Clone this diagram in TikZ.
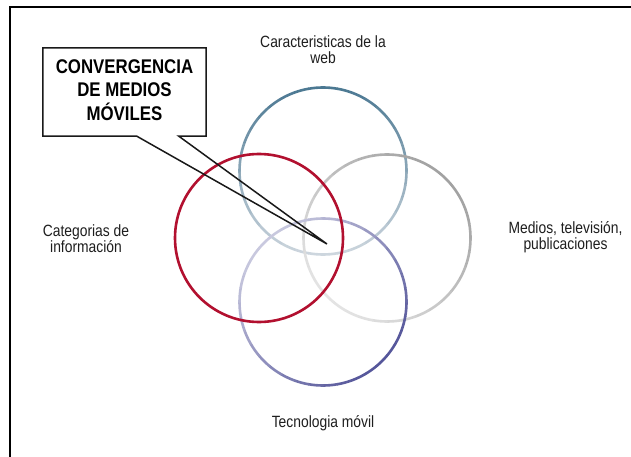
\documentclass[tikz,border=0pt]{standalone}
\usepackage{fontspec}
\setmainfont{Liberation Sans}
\newfontfamily\tallfont[FakeStretch=0.85]{Liberation Sans}
\usetikzlibrary{calc}
\definecolor{bluedark}{HTML}{4B7892}
\definecolor{bluelight}{HTML}{CDD6DE}
\definecolor{graydark}{HTML}{A2A2A2}
\definecolor{graylight}{HTML}{E4E4E4}
\definecolor{purpdark}{HTML}{55569A}
\definecolor{purplight}{HTML}{C9C9DF}
\definecolor{ringred}{HTML}{B2102F}
\definecolor{txt}{HTML}{1E1E1E}
\newcommand{\gradring}[5]{% center, radius, dark angle, dark colour, light colour
  \foreach \a in {0,10,...,350}{
    \pgfmathsetmacro{\t}{50+50*cos(\a+5-#3)}
    \draw[ring, color=#4!\t!#5] ($(#1)+(\a:#2)$) arc[start angle=\a, end angle=\a+10, radius=#2];
  }}
\begin{document}
\begin{tikzpicture}[x=1pt,y=-1pt,
  ring/.style={line width=2.6pt, line cap=round},
  lbl/.style={font=\tallfont\fontsize{16.3}{16}\selectfont, text=txt, align=center, inner sep=0pt},
  calltxt/.style={font=\tallfont\fontsize{19.8}{23.5}\selectfont\bfseries, text=black, align=center, inner sep=0pt},
  callbox/.style={minimum width=163pt, minimum height=88pt, inner sep=0pt},
  frameline/.style={line width=1.6pt, black},
  pointer/.style={line width=1.5pt, black!90, line join=miter}]
\fill[white] (0,0) rectangle (631,457);
\useasboundingbox (0,0) rectangle (631,457);
% frame
\coordinate (ftl) at (10,7);
\coordinate (ftr) at (631,7);
\coordinate (fbl) at (10,457);
\draw[frameline] (fbl) -- (ftl) -- (ftr);
% circle centres
\coordinate (cweb) at (323,171);
\coordinate (cinfo) at (259,238);
\coordinate (cmedia) at (387,238);
\coordinate (cmobile) at (323,302);
\gradring{cweb}{83.5}{270}{bluedark}{bluelight}
\gradring{cmedia}{83.5}{315}{graydark}{graylight}
\gradring{cmobile}{83.5}{45}{purpdark}{purplight}
\draw[ring, ringred] (cinfo) circle[radius=84];
% callout
\node[callbox] (box) at (124.5,92) {};
\node[calltxt] (conv) at (124.5,90) {CONVERGENCIA\\DE MEDIOS\\MÓVILES};
\coordinate (tip) at (327,244);
\draw[pointer] ($(box.south west)+(94,0)$) -- (box.south west) -- (box.north west)
  -- (box.north east) -- (box.south east) -- ($(box.south west)+(136,0)$) -- (tip) -- cycle;
% labels
\node[lbl] (web) at (323,50) {Caracteristicas de la\\web};
\node[lbl] (info) at (86,239) {Categorias de\\información};
\node[lbl] (media) at (565.5,237) {Medios, televisión,\\publicaciones};
\node[lbl] (mobile) at (323,423) {Tecnologia móvil};
\end{tikzpicture}
\end{document}
